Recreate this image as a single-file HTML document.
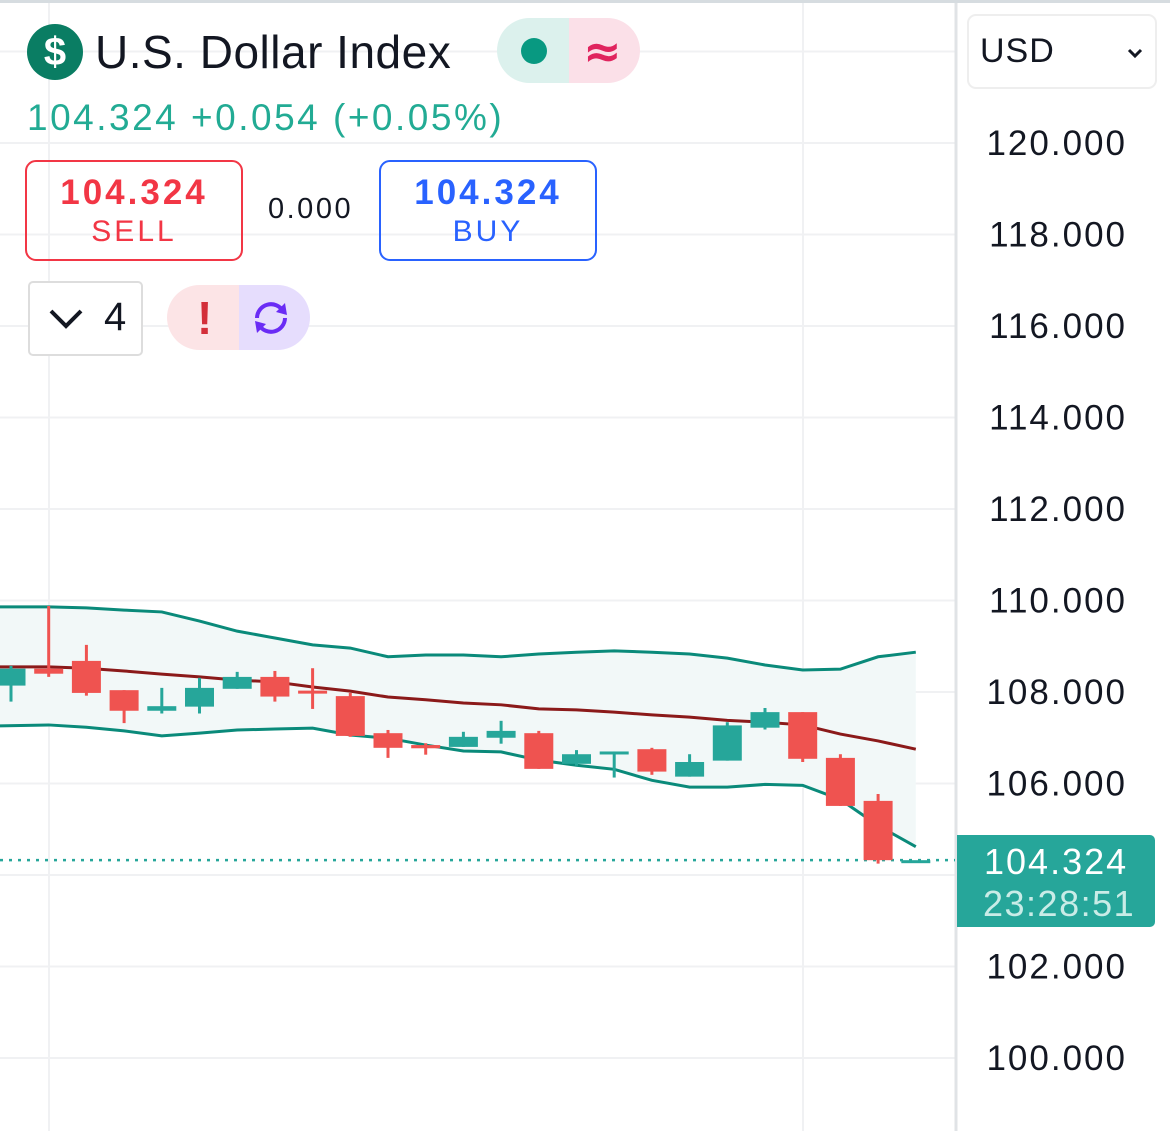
<!DOCTYPE html>
<html><head><meta charset="utf-8"><style>
body{margin:0;width:1170px;height:1131px;overflow:hidden;background:#fff;font-family:"Liberation Sans",sans-serif;position:relative}
.abs{position:absolute}
</style></head><body>
<svg id="chart" class="abs" style="left:0;top:0" width="1170" height="1131"></svg>
<div class="abs" style="left:0;top:0;width:1170px;height:3px;background:#d6dce0"></div>

<div class="abs" style="left:27px;top:24px;width:56px;height:56px;border-radius:50%;background:#0a7d63;color:#fff;font:bold 40px 'Liberation Sans',sans-serif;text-align:center;line-height:56px">$</div>
<div class="abs" style="left:95px;top:24px;font-size:46px;color:#131722;line-height:56px;letter-spacing:0.5px">U.S. Dollar Index</div>
<div class="abs" style="left:497px;top:18px;width:143px;height:65px;border-radius:33px;overflow:hidden">
 <div class="abs" style="left:0;top:0;width:72px;height:65px;background:#dcf1ed"></div>
 <div class="abs" style="left:72px;top:0;width:71px;height:65px;background:#fbe0e8"></div>
 <div class="abs" style="left:24px;top:20px;width:26px;height:26px;border-radius:50%;background:#089981"></div>
 <div class="abs" style="left:86px;top:6px;font:bold 46px 'DejaVu Sans',sans-serif;color:#e0245e">≈</div>
</div>
<div class="abs" style="left:27px;top:97px;font-size:37px;color:#22ab94;letter-spacing:2.5px">104.324 +0.054 (+0.05%)</div>

<div class="abs" style="left:25px;top:160px;width:214px;height:97px;border:2px solid #f23645;border-radius:11px;text-align:center;color:#f23645">
 <div style="font-weight:bold;font-size:35px;margin-top:11px;letter-spacing:3px">104.324</div>
 <div style="font-size:30px;margin-top:2px;letter-spacing:3px">SELL</div>
</div>
<div class="abs" style="left:268px;top:193px;font-size:29px;color:#131722;letter-spacing:2.5px">0.000</div>
<div class="abs" style="left:379px;top:160px;width:214px;height:97px;border:2px solid #2962ff;border-radius:11px;text-align:center;color:#2962ff">
 <div style="font-weight:bold;font-size:35px;margin-top:11px;letter-spacing:3px">104.324</div>
 <div style="font-size:30px;margin-top:2px;letter-spacing:3px">BUY</div>
</div>

<div class="abs" style="left:28px;top:281px;width:111px;height:71px;border:2px solid #ddd;border-radius:5px;background:#fff">
 <svg class="abs" style="left:18px;top:25px" width="36" height="22"><polyline points="3,3 18,18 33,3" fill="none" stroke="#131722" stroke-width="4"/></svg>
 <div class="abs" style="left:74px;top:12px;font-size:40px;color:#131722">4</div>
</div>
<div class="abs" style="left:167px;top:285px;width:143px;height:65px;border-radius:33px;overflow:hidden">
 <div class="abs" style="left:0;top:0;width:72px;height:65px;background:#fce4e6"></div>
 <div class="abs" style="left:72px;top:0;width:71px;height:65px;background:#e6ddfd"></div>
 <div class="abs" style="left:30px;top:6px;font:bold 46px 'Liberation Sans',sans-serif;color:#d32f3a">!</div>
 <svg class="abs" style="left:82px;top:12px" width="44" height="42"><path d="M8 21 A14 14 0 0 1 34 14" fill="none" stroke="#6a2cf5" stroke-width="4"/><path d="M36 21 A14 14 0 0 1 10 28" fill="none" stroke="#6a2cf5" stroke-width="4"/><polygon points="36,6 38,18 27,15" fill="#6a2cf5"/><polygon points="8,36 6,24 17,27" fill="#6a2cf5"/></svg>
</div>

<div class="abs" style="left:967px;top:14px;width:186px;height:71px;border:2px solid #eee;border-radius:9px;background:#fff">
 <div class="abs" style="left:11px;top:16px;font-size:34px;color:#131722;letter-spacing:1px">USD</div>
 <svg class="abs" style="left:158px;top:32px" width="16" height="12"><polyline points="2,2 8,8 14,2" fill="none" stroke="#131722" stroke-width="3"/></svg>
</div>

<div class="abs" style="left:957px;top:835px;width:198px;height:92px;background:#26a69a;border-radius:0 5px 5px 0">
 <div class="abs" style="left:27px;top:6px;font-size:36px;color:#fff;letter-spacing:2px">104.324</div>
 <div class="abs" style="left:26px;top:48px;font-size:36px;color:#c9ece7;letter-spacing:1.5px">23:28:51</div>
</div>

<script>
const ticks=[120,118,116,114,112,110,108,106,102,100];
const opens =[108.14,108.51,108.68,108.04,107.59,107.68,108.07,108.33,108.03,107.91,107.10,106.84,106.80,107.00,107.10,106.43,106.65,106.75,106.15,106.50,107.22,107.56,106.56,105.62,104.324];
const highs =[108.57,109.88,109.03,108.04,108.09,108.31,108.44,108.46,108.52,107.98,107.17,106.88,107.13,107.37,107.15,106.73,106.70,106.78,106.64,107.34,107.65,107.56,106.64,105.77,104.324];
const lows  =[107.79,108.33,107.92,107.32,107.53,107.53,108.07,107.79,107.63,107.02,106.56,106.63,106.80,106.87,106.32,106.39,106.13,106.19,106.15,106.50,107.18,106.47,105.51,104.25,104.324];
const closes=[108.51,108.40,107.98,107.59,107.69,108.09,108.33,107.90,107.97,107.04,106.78,106.77,107.02,107.15,106.32,106.64,106.70,106.26,106.47,107.27,107.56,106.54,105.51,104.324,104.324];
const upperBand=[109.86,109.86,109.84,109.79,109.75,109.55,109.33,109.18,109.03,108.96,108.77,108.81,108.81,108.77,108.83,108.87,108.90,108.87,108.83,108.74,108.59,108.48,108.50,108.77,108.87];
const midBand=[108.55,108.55,108.52,108.46,108.39,108.33,108.26,108.22,108.11,108.02,107.89,107.83,107.76,107.72,107.63,107.61,107.56,107.50,107.45,107.38,107.34,107.28,107.08,106.93,106.75];
const lowerBand=[107.26,107.28,107.23,107.15,107.04,107.10,107.17,107.19,107.21,107.06,106.99,106.84,106.71,106.69,106.51,106.40,106.31,106.07,105.92,105.92,105.98,105.96,105.65,105.08,104.62];
const lastPrice=104.324;

const svg=document.getElementById('chart');
const NS='http://www.w3.org/2000/svg';
const y=v=>143+(120-v)*45.75;
const x=i=>11+i*37.7;
const bx=i=>i===0?0:x(i);
function mk(tag,attrs){const e=document.createElementNS(NS,tag);for(const k in attrs)e.setAttribute(k,attrs[k]);svg.appendChild(e);return e;}
for(let v=122;v>=98;v-=2){const g=mk('line',{x1:0,x2:955,y1:y(v),y2:y(v),stroke:'#f0f1f3','stroke-width':2});

}
[49,803].forEach(gx=>{const g=mk('line',{x1:gx,x2:gx,y1:0,y2:1131,stroke:'#f0f1f3','stroke-width':2});

});
const axl=mk('line',{x1:956,x2:956,y1:0,y2:1131,stroke:'#e0e3e6','stroke-width':3});


ticks.forEach(v=>{const t=mk('text',{x:1127,y:y(v)+12,'text-anchor':'end','font-size':35,fill:'#131722','font-family':'Liberation Sans, sans-serif','letter-spacing':'2'});t.textContent=v.toFixed(3);

});
let pts=upperBand.map((v,i)=>bx(i)+','+y(v)).concat(lowerBand.map((v,i)=>bx(i)+','+y(v)).reverse());
const fill=mk('polygon',{points:pts.join(' '),fill:'#f2f8f8'});


function line(arr,col,name){const p=mk('polyline',{points:arr.map((v,i)=>bx(i)+','+y(v)).join(' '),fill:'none',stroke:col,'stroke-width':3});

}
line(upperBand,'#0a8a7a','upper-band');
line(lowerBand,'#0a8a7a','lower-band');
line(midBand,'#8b1a1a','middle-band');
const lp=mk('line',{x1:0,x2:955,y1:y(lastPrice),y2:y(lastPrice),stroke:'#26a69a','stroke-width':2.5,'stroke-dasharray':'3 6'});


opens.forEach((o,i)=>{const c=closes[i];const up=c>=o;const col=up?'#26a69a':'#ef5350';const cx=x(i);
const w=mk('line',{x1:cx,x2:cx,y1:y(highs[i]),y2:y(lows[i]),stroke:col,'stroke-width':3});


const top=y(Math.max(o,c)),h=Math.max(3,y(Math.min(o,c))-top);
const r=mk('rect',{x:cx-14.5,y:top,width:29,height:h,fill:col});

});
</script>
</body></html>
